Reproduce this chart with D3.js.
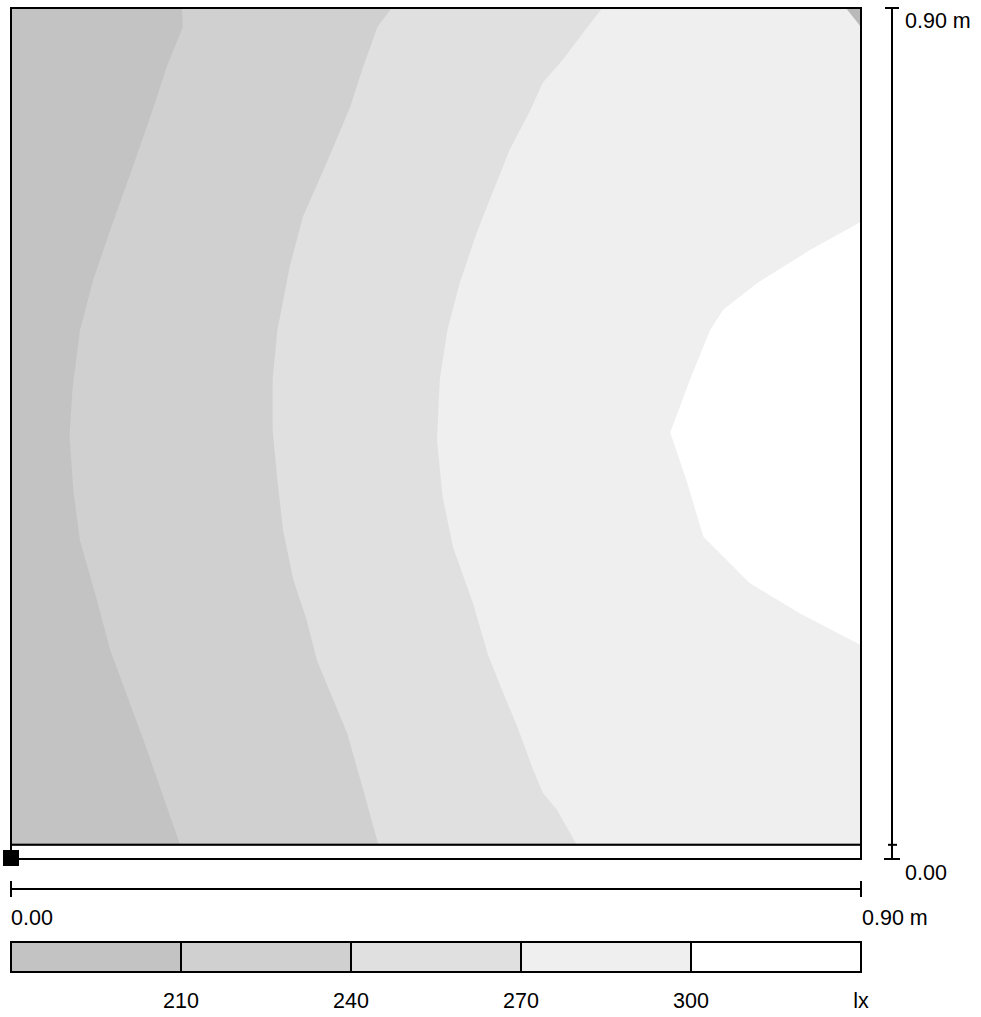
<!DOCTYPE html>
<html><head><meta charset="utf-8">
<script src="https://cdn.jsdelivr.net/npm/d3@7"></script>
<style>body{margin:0;background:#fff}svg{display:block}text{font-family:"Liberation Sans",Arial,sans-serif;font-size:21.5px;fill:#000}</style>
</head><body><svg id="c" width="981" height="1017"></svg>
<script>
// Isolines (m) : each runs from top to bottom of the calculation area
const iso210 = [[0.181,0.900],[0.182,0.880],[0.165,0.838],[0.150,0.792],[0.129,0.732],[0.105,0.665],[0.087,0.612],[0.073,0.559],[0.065,0.496],[0.062,0.448],[0.066,0.390],[0.073,0.337],[0.091,0.274],[0.105,0.221],[0.142,0.121],[0.179,0.015]];
const iso240 = [[0.403,0.900],[0.388,0.880],[0.373,0.838],[0.359,0.795],[0.338,0.745],[0.309,0.679],[0.295,0.626],[0.282,0.559],[0.277,0.507],[0.277,0.454],[0.282,0.401],[0.288,0.348],[0.299,0.295],[0.313,0.253],[0.324,0.210],[0.356,0.133],[0.373,0.073],[0.389,0.015]];
const iso270 = [[0.626,0.900],[0.606,0.874],[0.584,0.845],[0.563,0.821],[0.550,0.792],[0.528,0.750],[0.504,0.690],[0.493,0.662],[0.475,0.609],[0.462,0.559],[0.454,0.507],[0.451,0.443],[0.457,0.383],[0.468,0.330],[0.489,0.271],[0.505,0.216],[0.521,0.176],[0.536,0.140],[0.553,0.094],[0.563,0.070],[0.578,0.052],[0.599,0.015]];
const iso300 = [[0.900,0.674],[0.846,0.644],[0.790,0.609],[0.754,0.581],[0.740,0.559],[0.719,0.507],[0.698,0.451],[0.716,0.398],[0.733,0.341],[0.782,0.292],[0.835,0.260],[0.900,0.226]];
const cornerPatch = [[0.884,0.900],[0.900,0.900],[0.900,0.880]];
const levels = [210, 240, 270, 300];
const levelColors = ["#c3c3c3", "#d0d0d0", "#e0e0e0", "#efefef", "#ffffff"];
const legendTicks = ["210", "240", "270", "300", "lx"];
const roomSize = 0.90;       // m
const areaBottom = 0.015;    // m, lower edge of calculation area
const axisLabels = ["0.00", "0.90 m"];

const svg = d3.select("#c");
const x = d3.scaleLinear([0, roomSize], [11, 861]);
const y = d3.scaleLinear([0, roomSize], [859, 8]);
const line = d3.line().x(d => x(d[0])).y(d => y(d[1]));

svg.append("clipPath").attr("id", "area").append("rect")
  .attr("x", x(0)).attr("y", y(roomSize)).attr("width", x(roomSize) - x(0)).attr("height", y(areaBottom) - y(roomSize));

const g = svg.append("g").attr("clip-path", "url(#area)");
g.append("rect").attr("x", x(0)).attr("y", y(roomSize)).attr("width", x(roomSize) - x(0))
  .attr("height", y(areaBottom) - y(roomSize)).attr("fill", levelColors[0]);
[iso210, iso240, iso270].forEach((iso, i) => {
  const poly = iso.concat([[roomSize + 0.05, -0.05], [roomSize + 0.05, roomSize + 0.05], [iso[0][0], roomSize + 0.05]]);
  g.append("path").attr("d", line(poly) + "Z").attr("fill", levelColors[i + 1]);
});
g.append("path").attr("d", line(iso300.concat([[roomSize + 0.05, iso300[iso300.length-1][1]], [roomSize + 0.05, iso300[0][1]]])) + "Z")
  .attr("fill", levelColors[4]);
g.append("path").attr("d", line(cornerPatch) + "Z").attr("fill", "#b9b9b9");

svg.append("rect").attr("x", x(0)).attr("y", y(roomSize)).attr("width", x(roomSize) - x(0))
  .attr("height", y(areaBottom) - y(roomSize)).attr("fill", "none").attr("stroke", "#000").attr("stroke-width", 2);
svg.append("rect").attr("x", x(0)).attr("y", y(areaBottom)).attr("width", x(roomSize) - x(0))
  .attr("height", y(0) - y(areaBottom)).attr("fill", "#fff").attr("stroke", "#000").attr("stroke-width", 2);
svg.append("rect").attr("x", x(0) - 8).attr("y", y(0) - 9).attr("width", 16).attr("height", 16).attr("fill", "#000");

const hb = svg.append("g").attr("stroke", "#000").attr("stroke-width", 2);
hb.append("line").attr("x1", x(0)).attr("x2", x(roomSize)).attr("y1", 889).attr("y2", 889);
[0, roomSize].forEach(v => hb.append("line").attr("x1", x(v)).attr("x2", x(v)).attr("y1", 881).attr("y2", 897));
svg.append("text").attr("x", x(0)).attr("y", 925).text(axisLabels[0]);
svg.append("text").attr("x", x(roomSize) + 1).attr("y", 925).text(axisLabels[1]);

const vb = svg.append("g").attr("stroke", "#000").attr("stroke-width", 2);
vb.append("line").attr("x1", 892).attr("x2", 892).attr("y1", y(roomSize)).attr("y2", y(0));
vb.append("line").attr("x1", 885).attr("x2", 899).attr("y1", y(roomSize)).attr("y2", y(roomSize));
vb.append("line").attr("x1", 884).attr("x2", 900).attr("y1", y(0)).attr("y2", y(0));
vb.append("line").attr("x1", 888).attr("x2", 897).attr("y1", y(areaBottom)).attr("y2", y(areaBottom));
svg.append("text").attr("x", 905).attr("y", 28).text(axisLabels[1]);
svg.append("text").attr("x", 905).attr("y", 880).text(axisLabels[0]);

const lx = d3.scaleLinear([180, 330], [11, 861]);
const bounds = [180].concat(levels, [330]);
const lg = svg.append("g");
levelColors.forEach((c, i) => {
  lg.append("rect").attr("x", lx(bounds[i])).attr("y", 942).attr("width", lx(bounds[i + 1]) - lx(bounds[i]))
    .attr("height", 30).attr("fill", c).attr("stroke", "#000").attr("stroke-width", 2);
});
legendTicks.forEach((t, i) => {
  lg.append("text").attr("x", lx(bounds[i + 1])).attr("y", 1008).attr("text-anchor", "middle").text(t);
});
</script></body></html>
